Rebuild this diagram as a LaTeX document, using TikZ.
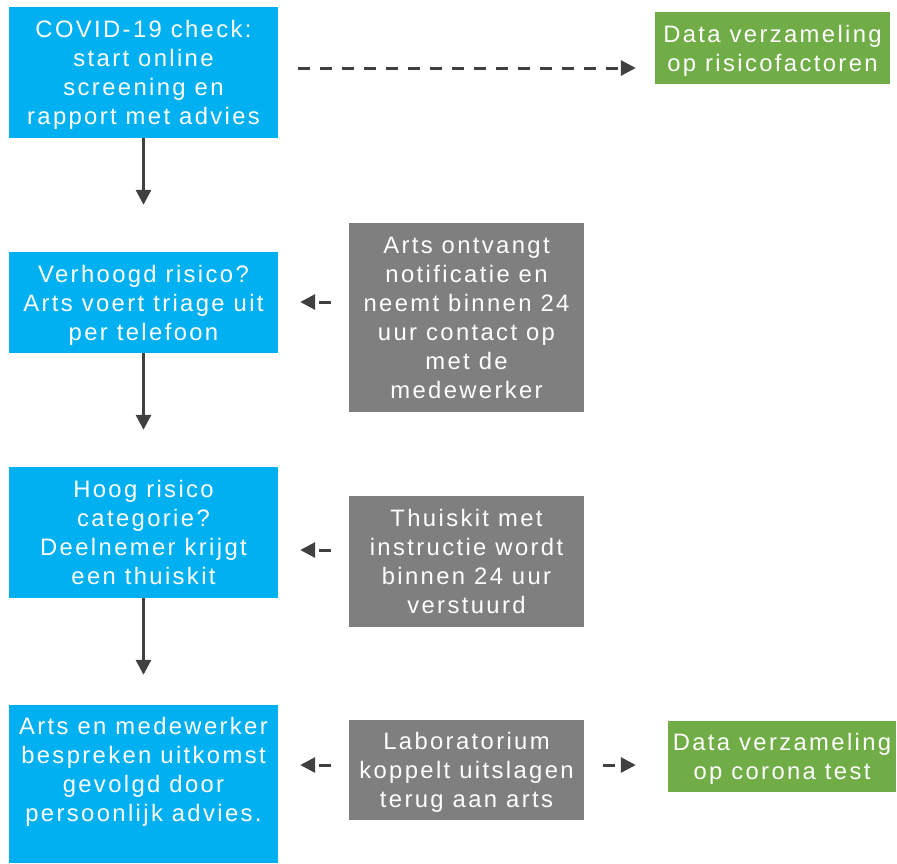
\documentclass[tikz,border=0pt]{standalone}
\usepackage{fontspec}
\setmainfont[LetterSpace=10]{Liberation Sans}
\usetikzlibrary{arrows.meta}

\begin{document}
\begin{tikzpicture}[x=1pt, y=-1pt,
	box/.style={rectangle, inner sep=0pt, align=center, text=white,
		font=\fontsize{23.8}{29}\selectfont, text depth=-2pt},
	bluebox/.style={box, fill=covidb, minimum width=269pt},
	graybox/.style={box, fill=covidg, minimum width=235pt},
	greenbox/.style={box, fill=covidgr},
	flow/.style={draw=arrowg, line width=3pt, -{Triangle[length=15pt, width=15pt]}},
	dflow/.style={flow, dash pattern=on 12pt off 10pt}]
			\definecolor{covidb}{RGB}{0,176,240}
				\definecolor{covidg}{RGB}{127,127,127}
				\definecolor{covidgr}{RGB}{112,173,71}
				\definecolor{arrowg}{RGB}{64,64,64}
				
				\useasboundingbox (0,0) rectangle (897,863);
				
				% left column
				\node[bluebox, minimum height=131pt] (check) at (143.5,72.5) {COVID-19 check:\\start online\\screening en\\rapport met advies};
				\node[bluebox, minimum height=101pt] (triage) at (143.5,302.5) {Verhoogd risico?\\Arts voert triage uit\\per telefoon};
				\node[bluebox, minimum height=131pt] (thuiskit) at (143.5,532.5) {Hoog risico\\categorie?\\Deelnemer krijgt\\een thuiskit};
				\node[bluebox, minimum height=158pt] (advies) at (143.5,784) {Arts en medewerker\\bespreken uitkomst\\gevolgd door\\persoonlijk advies.\\ \mbox{}};
				
				% middle column
				\node[graybox, minimum height=189pt] (notif) at (466.5,317.5) {Arts ontvangt\\notificatie en\\neemt binnen 24\\uur contact op\\met de\\medewerker};
				\node[graybox, minimum height=131pt] (verstuurd) at (466.5,561.5) {Thuiskit met\\instructie wordt\\binnen 24 uur\\verstuurd};
				\node[graybox, minimum height=100pt] (lab) at (466.5,770) {Laboratorium\\koppelt uitslagen\\terug aan arts};
				
				% right column
				\node[greenbox, minimum width=235pt, minimum height=72pt] (data1) at (772.5,48) {Data verzameling\\op risicofactoren};
				\node[greenbox, minimum width=228pt, minimum height=71pt] (data2) at (782,756.5) {Data verzameling\\op corona test};
				
				\coordinate (r1) at (0,68);
				\coordinate (r2) at (0,302);
				\coordinate (r3) at (0,550);
				\coordinate (r4) at (0,765);
				
				\draw[flow, shorten >=47pt] (check) -- (triage);
				\draw[flow, shorten >=37pt] (triage) -- (thuiskit);
				\draw[flow, shorten >=30pt] (thuiskit) -- (advies);
				
				\draw[dflow, shorten <=20pt, shorten >=19pt] (check.east |- r1) -- (data1.west |- r1);
				\draw[dflow, shorten <=18pt, shorten >=22pt] (notif.west |- r2) -- (triage.east |- r2);
				\draw[dflow, shorten <=18pt, shorten >=22pt] (verstuurd.west |- r3) -- (thuiskit.east |- r3);
				\draw[dflow, shorten <=18pt, shorten >=22pt] (lab.west |- r4) -- (advies.east |- r4);
				\draw[dflow, shorten <=19pt, shorten >=32pt] (lab.east |- r4) -- (data2.west |- r4);
		\end{tikzpicture}
\end{document}
